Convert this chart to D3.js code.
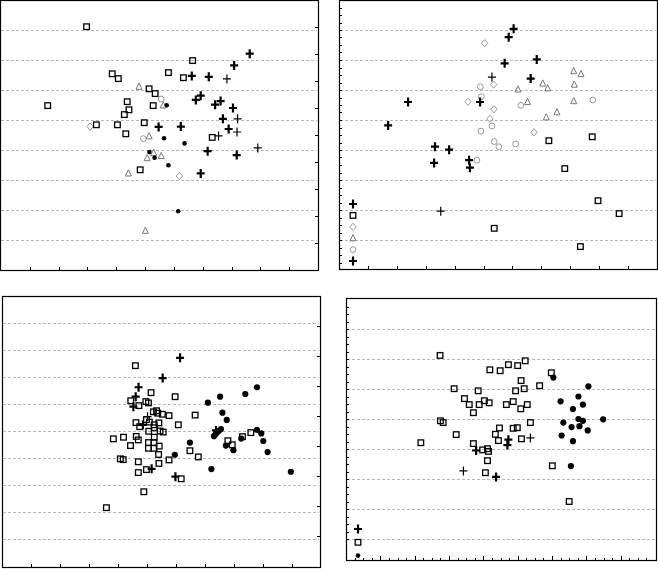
<!DOCTYPE html>
<html><head><meta charset="utf-8">
<script src="https://cdn.jsdelivr.net/npm/d3@7"></script>
<style>body{margin:0;background:#fff}svg{display:block}</style>
</head><body>
<svg id="chart" width="658" height="569"></svg>
<script>
// ---------------- DATA (x, y) ----------------
// Panel 1 (top-left)
const p1Squares = [[2.97,8.11],[6.65,6.98],[3.86,6.54],[4.07,6.38],[5.81,6.58],[6.33,6.41],[5.14,6.04],[5.35,5.88],[1.62,5.48],[4.38,5.61],[4.44,5.34],[5.28,5.48],[4.28,5.18],[3.31,4.84],[4.04,4.84],[4.97,4.91],[4.33,4.54],[7.33,4.42],[4.83,3.34]];
const p1Plus = [[8.63,7.21],[8.09,6.82],[6.62,6.47],[7.21,6.44],[6.93,5.81],[6.76,5.67],[7.62,5.63],[7.43,5.51],[8.05,5.40],[7.70,5.04],[5.47,4.77],[6.24,4.78],[7.90,4.70],[7.17,3.96],[8.18,3.83],[6.93,3.22]];
const p1ThinPlus = [[7.84,6.37],[8.21,5.04],[8.19,4.60],[7.55,4.47],[8.91,4.07]];
const p1Triangles = [[4.79,6.11],[5.63,5.49],[5.14,4.46],[5.30,3.90],[5.07,3.73],[5.56,3.80],[4.42,3.22],[5.01,1.31]];
const p1Circles = [[5.56,5.70],[4.94,4.38]];
const p1Diamonds = [[3.09,4.78],[6.19,3.13]];
const p1Dots = [[5.75,5.49],[5.66,4.39],[6.37,4.22],[5.15,3.93],[5.33,3.74],[5.81,3.49],[6.15,1.96]];

// Panel 2 (top-right)
const p2Plus = [[6.04,8.04],[5.87,7.76],[5.73,6.89],[6.84,7.02],[6.63,6.38],[2.39,5.60],[4.88,5.60],[1.70,4.82],[3.32,4.11],[3.81,4.01],[3.29,3.57],[4.50,3.66],[4.53,3.41]];
const p2ThinPlus = [[5.29,6.43],[3.52,1.96]];
const p2Squares = [[7.26,4.31],[8.76,4.44],[7.81,3.38],[8.96,2.31],[9.69,1.88],[5.37,1.39],[8.35,0.78]];
const p2Triangles = [[8.12,6.63],[8.37,6.53],[8.14,6.18],[7.05,6.22],[7.22,6.06],[6.19,6.02],[6.52,5.60],[8.12,5.63],[7.54,5.26],[7.17,5.09]];
const p2Diamonds = [[5.04,7.56],[5.35,6.18],[4.46,5.61],[5.36,5.36],[5.22,5.04],[6.75,4.59]];
const p2Circles = [[4.89,6.11],[4.92,5.78],[6.29,5.49],[8.78,5.67],[5.29,4.80],[4.91,4.63],[5.37,4.28],[5.53,4.11],[6.11,4.20],[4.77,3.66]];
const p2Legend = ["plus","square","diamond","triangle","circle","plus"];

// Panel 3 (bottom-left)
const p3Plus = [[6.14,7.71],[5.54,6.96],[4.71,6.62],[4.61,6.27],[4.53,5.90],[4.86,5.23],[5.16,3.60],[5.98,3.31],[7.38,5.02]];
const p3ThinPlus = [[5.02,5.53]];
const p3Squares = [[4.60,7.42],[5.14,6.42],[5.97,6.27],[4.44,6.12],[4.72,5.94],[4.96,6.09],[5.05,6.04],[5.22,5.71],[5.33,5.75],[5.37,5.66],[5.53,5.62],[5.76,5.57],[6.66,5.59],[4.98,5.42],[5.08,5.33],[4.62,5.31],[4.75,5.16],[5.25,5.23],[5.41,5.30],[6.08,5.23],[5.25,5.12],[5.06,4.99],[5.45,5.00],[5.56,4.96],[3.84,4.71],[4.19,4.77],[4.63,4.80],[4.70,4.67],[5.25,4.77],[5.05,4.57],[5.24,4.57],[4.43,4.46],[5.05,4.36],[5.24,4.36],[5.42,4.44],[5.40,4.13],[6.48,4.27],[6.77,4.04],[5.76,3.93],[4.08,3.97],[4.18,3.94],[4.70,3.86],[5.41,3.80],[4.98,3.57],[4.70,3.46],[6.18,3.23],[4.89,2.75],[3.60,2.16],[7.79,4.64],[7.94,4.49],[8.29,4.79],[8.58,4.94]];
const p3Dots = [[8.79,6.62],[8.39,6.37],[7.52,6.27],[7.10,6.05],[7.60,5.68],[7.75,5.41],[7.31,4.81],[7.37,4.89],[7.42,4.95],[7.48,5.01],[7.55,5.07],[8.79,5.04],[8.94,4.91],[9.01,4.63],[9.16,4.22],[8.25,4.72],[7.98,4.29],[7.72,4.46],[6.48,4.57],[5.96,4.12],[7.22,3.59],[9.96,3.49]];

// Panel 4 (bottom-right)
const p4Squares = [[2.74,7.12],[4.19,6.64],[4.49,6.61],[4.73,6.81],[5.00,6.78],[5.22,6.94],[5.98,6.54],[5.10,6.28],[5.19,6.01],[4.94,5.94],[5.64,6.11],[3.15,6.01],[3.85,5.94],[3.45,5.68],[3.59,5.48],[3.88,5.48],[4.03,5.61],[4.17,5.54],[4.67,5.48],[4.87,5.58],[5.09,5.34],[5.28,5.48],[3.71,5.21],[2.75,4.94],[2.83,4.88],[5.37,4.88],[3.21,4.48],[4.47,4.70],[4.87,4.69],[4.99,4.71],[4.35,4.49],[4.44,4.28],[5.11,4.34],[2.18,4.21],[3.71,4.18],[3.98,3.97],[4.12,4.01],[4.15,3.92],[4.12,3.61],[4.06,3.21],[6.01,3.44],[6.50,2.25]];
const p4Plus = [[3.79,3.95],[4.37,3.07],[4.73,4.31],[4.70,4.13]];
const p4ThinPlus = [[3.42,3.27],[5.37,4.37]];
const p4Dots = [[6.04,6.38],[7.06,6.09],[6.77,5.75],[6.25,5.59],[6.90,5.48],[6.61,5.33],[6.77,5.00],[6.90,4.94],[7.49,4.99],[6.33,4.88],[6.57,4.73],[6.80,4.76],[7.04,4.62],[6.28,4.45],[6.61,4.26],[6.55,3.43]];
const p4Legend = ["plus","square","dot"];

// ---------------- DRAWING ----------------
const svg = d3.select("#chart");
svg.append("rect").attr("width",658).attr("height",569).attr("fill","#fff");

const GRID = "#b9b9b9";
function panel(cfg){
  const g = svg.append("g");
  const sx = d3.scaleLinear().domain(cfg.xDom).range(cfg.xRange);
  const sy = d3.scaleLinear().domain(cfg.yDom).range(cfg.yRange);
  const f = cfg.frame; // [x0,y0,x1,y1]
  // gridlines
  g.selectAll(".grid").data(cfg.grid).enter().append("line")
    .attr("x1",f[0]+1).attr("x2",f[2]-1)
    .attr("y1",d=>Math.round(sy(d))+0.5).attr("y2",d=>Math.round(sy(d))+0.5)
    .attr("stroke",GRID).attr("stroke-width",1).attr("stroke-dasharray","3,2");
  cfg.sx = sx; cfg.sy = sy; cfg.g = g;
  return cfg;
}
function frame(cfg){
  const f = cfg.frame;
  cfg.g.append("rect").attr("x",f[0]+0.5).attr("y",f[1]+0.5)
    .attr("width",f[2]-f[0]).attr("height",f[3]-f[1])
    .attr("fill","none").attr("stroke","#000").attr("stroke-width",1.2);
}
function bottomTicks(cfg, vals, len){
  const f = cfg.frame;
  cfg.g.selectAll(null).data(vals).enter().append("line")
    .attr("x1",d=>Math.round(cfg.sx(d))+0.5).attr("x2",d=>Math.round(cfg.sx(d))+0.5)
    .attr("y1",f[3]).attr("y2",f[3]-len).attr("stroke","#000").attr("stroke-width",1);
}
function sideTicks(cfg, scale, vals, side, len){
  const f = cfg.frame;
  const x = side==="left" ? f[0]+1 : f[2];
  const dir = side==="left" ? 1 : -1;
  cfg.g.selectAll(null).data(vals).enter().append("line")
    .attr("y1",d=>Math.round(scale(d))+0.5).attr("y2",d=>Math.round(scale(d))+0.5)
    .attr("x1",x).attr("x2",x+dir*len).attr("stroke","#000").attr("stroke-width",1);
}

function marker(g, type, x, y, big){
  switch(type){
    case "square":
      g.append("rect").attr("x",x-2.8).attr("y",y-2.8).attr("width",5.6).attr("height",5.6)
        .attr("fill","none").attr("stroke","#000").attr("stroke-width",1.3); break;
    case "plus":
      g.append("path").attr("d",`M${x-4},${y}H${x+4}M${x},${y-4.5}V${y+4.5}`)
        .attr("stroke","#000").attr("stroke-width",2.2).attr("fill","none"); break;
    case "thin":
      g.append("path").attr("d",`M${x-4},${y}H${x+4}M${x},${y-4.5}V${y+4.5}`)
        .attr("stroke","#000").attr("stroke-width",1.2).attr("fill","none"); break;
    case "triangle":
      g.append("path").attr("d",`M${x},${y-3.6}L${x+3},${y+2.6}L${x-3},${y+2.6}Z`)
        .attr("stroke","#777").attr("stroke-width",1).attr("fill","none"); break;
    case "circle":
      g.append("circle").attr("cx",x).attr("cy",y).attr("r",2.9)
        .attr("stroke","#999").attr("stroke-width",1).attr("fill","none"); break;
    case "diamond":
      g.append("path").attr("d",`M${x},${y-3.6}L${x+3.2},${y}L${x},${y+3.6}L${x-3.2},${y}Z`)
        .attr("stroke","#999").attr("stroke-width",1).attr("fill","none"); break;
    case "dot":
      g.append("circle").attr("cx",x).attr("cy",y).attr("r",big?3.1:2.3).attr("fill","#000"); break;
  }
}
function series(cfg, data, type, big){
  data.forEach(d=>marker(cfg.g, type, cfg.sx(d[0]), cfg.sy(d[1]), big));
}
function legend(cfg, items, dx, y0, step, big){
  const f = cfg.frame;
  items.forEach((t,i)=>marker(cfg.g, t, f[0]+dx, y0 + i*step, big));
}

const ints = n => d3.range(1,n);

// Panel 1
const P1 = panel({frame:[0,0,318,270], xDom:[0,11], xRange:[1,318], yDom:[0,9], yRange:[270,0], grid:ints(9)});
frame(P1);
bottomTicks(P1, ints(11), 3);
sideTicks(P1, d3.scaleLinear().domain([0,10]).range([270,0]), ints(10), "right", 3);
series(P1, p1Triangles, "triangle");
series(P1, p1Circles, "circle");
series(P1, p1Diamonds, "diamond");
series(P1, p1Squares, "square");
series(P1, p1Dots, "dot");
series(P1, p1ThinPlus, "thin");
series(P1, p1Plus, "plus");

// Panel 2
const P2 = panel({frame:[339,0,657,269], xDom:[0,11], xRange:[339,657], yDom:[0,9], yRange:[270,0], grid:ints(9)});
frame(P2);
bottomTicks(P2, ints(11), 3);
sideTicks(P2, P2.sy, d3.range(0.25,9,0.25), "left", 2);
series(P2, p2Triangles, "triangle");
series(P2, p2Circles, "circle");
series(P2, p2Diamonds, "diamond");
series(P2, p2Squares, "square");
series(P2, p2ThinPlus, "thin");
series(P2, p2Plus, "plus");
legend(P2, p2Legend, 14, 204, 11.4);

// Panel 3
const P3 = panel({frame:[2,296,320,567], xDom:[0,11], xRange:[2,321], yDom:[0,10], yRange:[566,296], grid:ints(10)});
frame(P3);
bottomTicks(P3, ints(11), 3);
sideTicks(P3, d3.scaleLinear().domain([0,9]).range([566,296]), ints(9), "right", 3);
series(P3, p3Squares, "square");
series(P3, p3Dots, "dot", true);
series(P3, p3ThinPlus, "thin");
series(P3, p3Plus, "plus");

// Panel 4
const P4 = panel({frame:[346,298,656,560], xDom:[0,9], xRange:[346,655], yDom:[0,9], yRange:[569,299], grid:ints(9)});
frame(P4);
bottomTicks(P4, d3.range(0.25,9,0.25), 2);
bottomTicks(P4, ints(9), 4);
sideTicks(P4, P4.sy, d3.range(1,9,0.25), "left", 2);
series(P4, p4Squares, "square");
series(P4, p4Dots, "dot", true);
series(P4, p4ThinPlus, "thin");
series(P4, p4Plus, "plus");
legend(P4, p4Legend, 12, 529, 13.3, false);
</script>
</body></html>
